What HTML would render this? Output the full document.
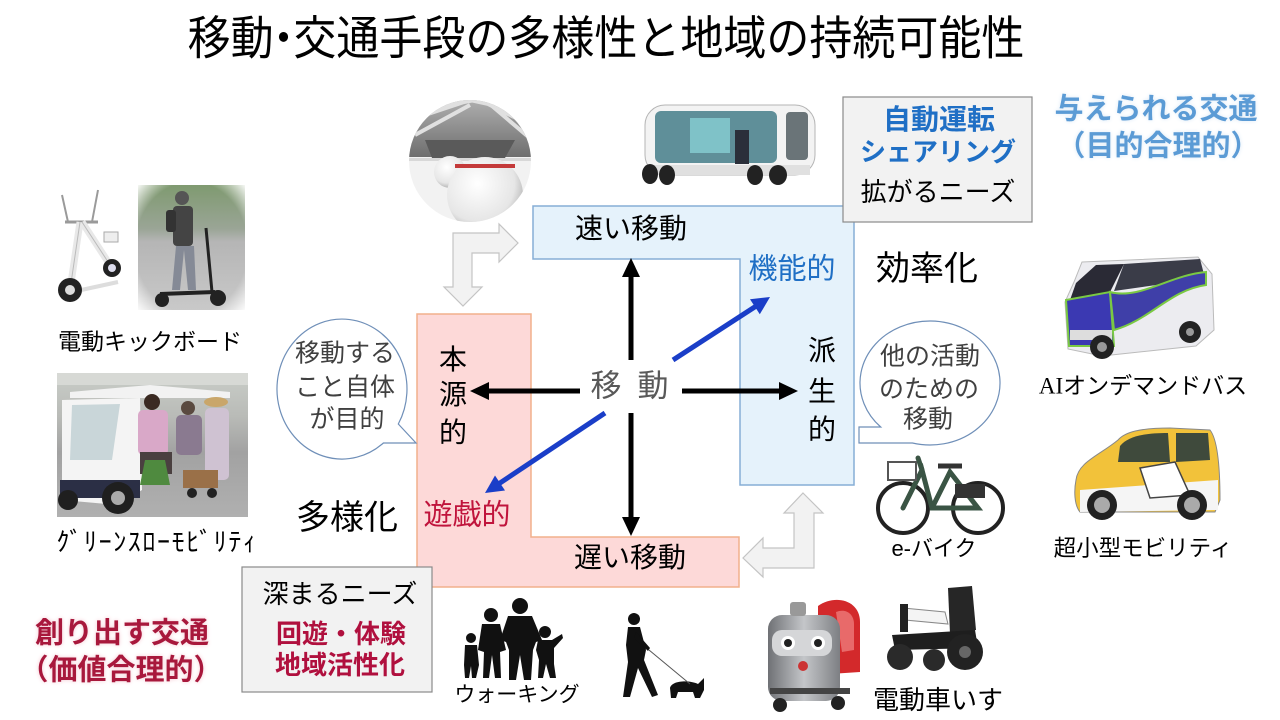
<!DOCTYPE html>
<html><head><meta charset="utf-8">
<style>
html,body{margin:0;padding:0;}
body{width:1280px;height:720px;position:relative;overflow:hidden;background:#fff;font-family:"Liberation Sans","Noto Sans CJK JP",sans-serif;}
svg{position:absolute;left:0;top:0;}
.t{position:absolute;white-space:nowrap;line-height:1;transform:translate(-50%,-50%);color:#000;}
.b{font-weight:bold;}
.blue{color:#1f6fc5;}
.red{color:#b0103e;}
</style></head><body>
<svg width="1280" height="720" viewBox="0 0 1280 720">
<defs>
  <clipPath id="pod"><circle cx="470" cy="161" r="61"/></clipPath>
  <linearGradient id="podtop" x1="0" y1="0" x2="0" y2="1">
    <stop offset="0" stop-color="#b4b4b4"/><stop offset="1" stop-color="#6e6e6e"/>
  </linearGradient>
  <radialGradient id="sph" cx="0.4" cy="0.35" r="0.7">
    <stop offset="0" stop-color="#ffffff"/><stop offset="0.7" stop-color="#e6e6e6"/><stop offset="1" stop-color="#a8a8a8"/>
  </radialGradient>
  <linearGradient id="road" x1="0" y1="0" x2="0" y2="1">
    <stop offset="0" stop-color="#7f9a70"/><stop offset="0.35" stop-color="#9aa596"/><stop offset="0.45" stop-color="#b5b5b5"/><stop offset="1" stop-color="#c9c9c9"/>
  </linearGradient>
  <linearGradient id="cartbg" x1="0" y1="0" x2="0" y2="1">
    <stop offset="0" stop-color="#c9cdc8"/><stop offset="0.3" stop-color="#b9bbb7"/><stop offset="0.55" stop-color="#a2a2a2"/><stop offset="1" stop-color="#b0b0b0"/>
  </linearGradient>
  <linearGradient id="robo" x1="0" y1="0" x2="1" y2="0">
    <stop offset="0" stop-color="#6f7175"/><stop offset="0.5" stop-color="#c4c6c9"/><stop offset="1" stop-color="#7d7f83"/>
  </linearGradient>
  <radialGradient id="vign" cx="0.5" cy="0.5" r="0.7">
    <stop offset="0.75" stop-color="#fff" stop-opacity="0"/><stop offset="1" stop-color="#fff" stop-opacity="0.9"/>
  </radialGradient>
</defs>

<!-- Pod circle image -->
<g clip-path="url(#pod)">
  <rect x="405" y="95" width="130" height="135" fill="#f2f2f2"/>
  <rect x="405" y="95" width="130" height="62" fill="url(#podtop)"/>
  <path d="M410 120 L470 100 M415 135 L470 105 M420 110 L475 100 M480 100 L530 125 M485 100 L532 140 M470 100 L525 112" stroke="#e0e0e0" stroke-width="4"/>
  <path d="M425 140 L515 140 L505 158 L432 158Z" fill="#5a5a5a"/>
  <rect x="405" y="158" width="130" height="3" fill="#d8d8d8"/>
  <circle cx="450" cy="172" r="16" fill="url(#sph)"/>
  <circle cx="485" cy="195" r="38" fill="url(#sph)"/>
  <rect x="455" y="164" width="60" height="4" fill="#c43a3a"/>
</g>

<!-- e-Palette -->
<g>
  <rect x="645" y="105" width="170" height="70" rx="20" fill="#f3f3f3" stroke="#b5b5b5"/>
  <rect x="655" y="111" width="122" height="52" rx="6" fill="#5f8f99"/>
  <rect x="690" y="118" width="40" height="35" fill="#7fc2c8"/>
  <rect x="735" y="130" width="14" height="34" fill="#2b2f3a"/>
  <rect x="786" y="112" width="22" height="48" rx="4" fill="#6a7478"/>
  <rect x="650" y="165" width="160" height="10" fill="#e0e0e0"/>
  <ellipse cx="650" cy="174" rx="8" ry="10" fill="#222"/>
  <ellipse cx="667" cy="175" rx="8" ry="10" fill="#222"/>
  <ellipse cx="755" cy="175" rx="8" ry="10" fill="#222"/>
  <ellipse cx="778" cy="175" rx="9" ry="10" fill="#222"/>
</g>

<!-- White folding scooter -->
<g fill="none" stroke="#9a9a9a" stroke-width="3">
  <path d="M65 222 L98 222"/>
  <path d="M62 195 L68 222 M98 190 L92 222" stroke-width="2"/>
  <path d="M80 222 L70 290 M82 222 L112 268" stroke="#e8e8e8" stroke-width="7"/>
  <path d="M80 222 L70 290 M82 222 L112 268" stroke="#bbb" stroke-width="1"/>
  <path d="M72 292 L118 282" stroke="#ddd" stroke-width="4"/>
  <rect x="104" y="232" width="14" height="10" fill="#eee" stroke="#aaa" stroke-width="1"/>
</g>
<circle cx="70" cy="290" r="12" fill="#222"/><circle cx="70" cy="290" r="5" fill="#ddd"/>
<circle cx="112" cy="268" r="9" fill="#222"/><circle cx="112" cy="268" r="4" fill="#dde"/>

<!-- Scooter photo -->
<rect x="138" y="185" width="107" height="125" fill="url(#road)"/>
<rect x="138" y="185" width="107" height="125" fill="url(#vign)"/>
<circle cx="182" cy="198" r="7" fill="#555"/>
<rect x="173" y="206" width="20" height="40" rx="4" fill="#444"/>
<rect x="166" y="210" width="10" height="22" rx="3" fill="#333"/>
<path d="M176 246 L172 290 L180 290 L184 250 L188 290 L196 290 L194 246Z" fill="#858a96"/>
<path d="M160 294 L215 292" stroke="#222" stroke-width="4"/>
<path d="M212 292 L206 228" stroke="#222" stroke-width="3"/>
<circle cx="162" cy="300" r="7" fill="#222"/><circle cx="218" cy="298" r="8" fill="#222"/>

<!-- Golf cart photo -->
<rect x="57" y="373" width="191" height="144" fill="url(#cartbg)"/>
<rect x="57" y="373" width="191" height="12" fill="#d7d9d5"/>
<path d="M70 392 L150 385 L230 392 L230 398 L70 398Z" fill="#f2f2f2"/>
<path d="M62 400 L140 398 L142 490 L118 505 L62 500Z" fill="#f4f4f4"/>
<path d="M72 405 L120 404 L112 460 L70 460Z" fill="#c9d6d9"/>
<rect x="60" y="480" width="80" height="18" fill="#2b2f45"/>
<circle cx="118" cy="498" r="16" fill="#1f1f1f"/><circle cx="118" cy="498" r="7" fill="#aaa"/>
<circle cx="68" cy="500" r="10" fill="#1f1f1f"/>
<rect x="138" y="410" width="30" height="45" rx="5" fill="#d9a8c8"/>
<circle cx="152" cy="402" r="8" fill="#3a2a22"/>
<rect x="140" y="452" width="32" height="22" fill="#4a4040"/>
<rect x="176" y="415" width="26" height="40" rx="5" fill="#8a7a90"/>
<circle cx="188" cy="408" r="7" fill="#5a4a40"/>
<rect x="205" y="408" width="24" height="72" rx="5" fill="#cfc2d2"/>
<ellipse cx="216" cy="402" rx="12" ry="5" fill="#c9a66a"/>
<rect x="183" y="470" width="35" height="18" fill="#9a7048"/>
<path d="M145 460 L165 460 L170 485 L140 485Z" fill="#4f8a3f"/>
<circle cx="192" cy="493" r="5" fill="#222"/><circle cx="212" cy="493" r="5" fill="#222"/>

<!-- AI bus -->
<path d="M1082 262 L1198 257 L1212 274 L1214 330 L1196 346 L1102 356 L1068 349 L1065 302 L1074 282Z" fill="#ececf0" stroke="#bbb"/>
<path d="M1076 283 L1096 265 L1124 264 L1110 292 L1070 300Z" fill="#2a2a35"/>
<path d="M1124 264 L1200 259 L1205 278 L1114 291Z" fill="#3a3c48"/>
<path d="M1066 300 L1110 292 L1114 346 L1069 346Z" fill="#3b39b2" stroke="#7ac943" stroke-width="2"/>
<path d="M1110 292 C1140 300 1170 275 1206 272 L1206 285 C1170 290 1150 320 1114 330Z" fill="#3f3fa8" stroke="#7ac943" stroke-width="2"/>
<rect x="1070" y="330" width="42" height="10" fill="#ddd"/>
<circle cx="1102" cy="347" r="12" fill="#222"/><circle cx="1102" cy="347" r="5" fill="#999"/>
<circle cx="1190" cy="332" r="11" fill="#222"/><circle cx="1190" cy="332" r="4" fill="#999"/>

<!-- e-bike -->
<g fill="none" stroke="#222" stroke-width="4">
  <circle cx="903" cy="508" r="25"/>
  <circle cx="978" cy="508" r="25"/>
</g>
<g fill="none" stroke="#3a5444" stroke-width="5" stroke-linecap="round">
  <path d="M903 508 L922 470 L932 508 L978 508 L950 472 L932 508"/>
  <path d="M922 470 L918 458"/>
</g>
<rect x="888" y="462" width="28" height="18" fill="none" stroke="#555" stroke-width="2"/>
<path d="M938 466 L962 466" stroke="#333" stroke-width="5"/>
<rect x="955" y="484" width="30" height="14" fill="#333"/>

<!-- Small car -->
<path d="M1076 480 C1078 462 1100 455 1118 440 C1125 432 1140 428 1170 428 L1210 430 C1218 440 1220 470 1220 500 L1215 512 L1080 512 C1074 505 1074 490 1076 480Z" fill="#f2c23a" stroke="#888"/>
<path d="M1080 490 L1218 480 L1218 510 L1080 512Z" fill="#f5f5f5"/>
<path d="M1120 446 C1128 436 1145 433 1168 433 L1170 462 L1118 462Z" fill="#3f4a3c"/>
<path d="M1176 433 L1208 433 L1210 460 L1176 462Z" fill="#3f4a3c"/>
<path d="M1140 468 L1175 462 L1190 495 L1150 498Z" fill="#ffffff" stroke="#444" stroke-width="1.5"/>
<circle cx="1102" cy="505" r="15" fill="#222"/><circle cx="1102" cy="505" r="8" fill="#aaa"/>
<circle cx="1192" cy="505" r="15" fill="#222"/><circle cx="1192" cy="505" r="8" fill="#aaa"/>

<!-- Family silhouettes -->
<g fill="#111">
  <circle cx="471" cy="638" r="5"/>
  <path d="M465 645 L477 645 L479 665 L476 678 L472 678 L471 666 L469 678 L465 678 L464 665Z"/>
  <circle cx="491" cy="615" r="7"/>
  <path d="M482 624 L500 624 L506 650 L500 652 L501 678 L495 678 L492 655 L489 678 L483 678 L484 652 L478 650Z"/>
  <circle cx="520" cy="606" r="8"/>
  <path d="M508 616 L532 616 L542 640 L536 642 L533 650 L531 680 L524 680 L520 655 L516 680 L509 680 L509 650 L506 642 L500 640Z"/>
  <circle cx="545" cy="632" r="6"/>
  <path d="M538 640 L552 640 L562 634 L563 638 L554 648 L554 664 L556 678 L550 678 L546 664 L543 678 L538 678 L539 660 L536 650Z"/>
</g>

<!-- Woman with dog -->
<g fill="#111">
  <circle cx="634" cy="619" r="6"/>
  <path d="M628 627 L640 627 L646 650 L644 660 L658 695 L652 697 L638 668 L630 697 L623 697 L628 662 L626 645Z"/>
  <path d="M636 632 L650 648 L648 651 L634 638Z"/>
  <path d="M670 688 C672 680 690 680 698 684 L704 678 L704 690 L700 698 L695 698 L693 692 L678 692 L676 698 L671 698Z"/>
</g>
<path d="M649 650 L690 684" stroke="#555" stroke-width="1"/>

<!-- Robot -->
<path d="M818 606 C835 594 860 600 860 622 L860 672 L830 674 L818 640Z" fill="#d3292b"/>
<path d="M836 612 C846 608 854 614 854 624 L854 650 L842 652Z" fill="#e86a6a"/>
<rect x="768" y="615" width="72" height="86" rx="14" fill="url(#robo)"/>
<rect x="790" y="602" width="16" height="14" rx="3" fill="#999"/>
<rect x="772" y="630" width="60" height="26" rx="10" fill="#d5d6d8"/>
<circle cx="788" cy="643" r="7" fill="#fff"/><circle cx="788" cy="643" r="4" fill="#222"/>
<circle cx="818" cy="643" r="7" fill="#fff"/><circle cx="818" cy="643" r="4" fill="#222"/>
<circle cx="803" cy="666" r="5" fill="#c33"/>
<rect x="770" y="688" width="80" height="6" fill="#444"/>
<circle cx="780" cy="705" r="7" fill="#222"/><circle cx="838" cy="703" r="7" fill="#222"/>

<!-- Wheelchair -->
<path d="M948 588 L972 586 L976 630 L950 634Z" fill="#262626"/>
<path d="M903 608 L945 612 L948 624 L905 620Z" fill="#f4f4f4" stroke="#888"/>
<rect x="900" y="604" width="8" height="28" fill="#222"/>
<path d="M892 635 L975 630 L978 648 L895 650Z" fill="#1e1e1e"/>
<circle cx="900" cy="657" r="13" fill="#2a2a2a"/>
<circle cx="934" cy="660" r="11" fill="#2a2a2a"/>
<circle cx="965" cy="652" r="18" fill="#222"/><circle cx="965" cy="652" r="6" fill="#666"/>

<!-- Pink L -->
<path d="M417 314 L531 314 L531 537 L739 537 L739 587 L417 587Z" fill="#fdd9d8" stroke="#f2b08c" stroke-width="1.5"/>
<!-- Blue L -->
<path d="M533 206 L854 206 L854 485 L740 485 L740 259 L533 259Z" fill="#e5f2fb" stroke="#86aed6" stroke-width="1.5"/>

<!-- Gray boxes -->
<rect x="843" y="97" width="189" height="125" fill="#f2f2f2" stroke="#8a8a8a" stroke-width="1.2"/>
<rect x="242" y="567" width="190" height="125" fill="#f2f2f2" stroke="#8a8a8a" stroke-width="1.2"/>

<!-- Gray bent arrows -->
<path d="M453 233 L499 233 L499 224 L518 243 L499 262 L499 253 L472 253 L472 287 L482 287 L463 306 L444 287 L453 287Z" fill="#f2f2f2" stroke="#c4c4c4" stroke-width="1.2"/>
<path d="M803 493 L823 513 L814 513 L814 568 L763 568 L763 577 L743 558 L763 538 L763 548 L794 548 L794 513 L784 513Z" fill="#f2f2f2" stroke="#c4c4c4" stroke-width="1.2"/>

<!-- Speech bubbles -->
<path d="M398.3 424 L416 443 L383.4 443 A65 70 0 1 1 398.3 424Z" fill="#fff" stroke="#6f8fb8" stroke-width="1.2"/>
<path d="M880.7 427 L859 427 L859 443 L912.4 443 A70 62 0 1 0 880.7 427Z" fill="#fff" stroke="#6f8fb8" stroke-width="1.2"/>

<!-- Black arrows -->
<g stroke="#000" stroke-width="5">
  <line x1="631" y1="360" x2="631" y2="272"/>
  <line x1="631" y1="413" x2="631" y2="522"/>
  <line x1="580" y1="391" x2="484" y2="391"/>
  <line x1="682" y1="391" x2="784" y2="391"/>
</g>
<g fill="#000">
  <path d="M631 258 L622 277 L640 277Z"/>
  <path d="M631 536 L622 517 L640 517Z"/>
  <path d="M470 391 L489 382 L489 400Z"/>
  <path d="M798 391 L779 382 L779 400Z"/>
</g>
<!-- Blue diagonal arrows -->
<g stroke="#1a3ec8" stroke-width="5">
  <line x1="673" y1="360" x2="757" y2="305.5"/>
  <line x1="605" y1="413" x2="498" y2="484.3"/>
</g>
<g fill="#1a3ec8">
  <path d="M770 297 L759.8 314.3 L750 299.3Z"/>
  <path d="M485 493 L505 490.5 L495 475.5Z"/>
</g>
</svg>

<!-- Title -->
<div class="t" style="left:606px;top:40px;font-size:43px;transform:translate(-50%,-50%) scale(1,1.08);">移動<span style="margin:0 -0.27em;">・</span>交通手段の多様性と地域の持続可能性</div>

<!-- Central diagram -->
<div class="t" style="left:631px;top:229px;font-size:28px;">速い移動</div>
<div class="t" style="left:630px;top:558px;font-size:28px;">遅い移動</div>
<div class="t blue" style="left:792px;top:270px;font-size:29px;">機能的</div>
<div class="t" style="left:467px;top:516px;font-size:29px;color:#c0143c;">遊戯的</div>
<div class="t" style="left:453px;top:360px;font-size:28px;">本</div>
<div class="t" style="left:453px;top:395px;font-size:28px;">源</div>
<div class="t" style="left:453px;top:433px;font-size:28px;">的</div>
<div class="t" style="left:822px;top:351px;font-size:28px;">派</div>
<div class="t" style="left:822px;top:392px;font-size:28px;">生</div>
<div class="t" style="left:822px;top:430px;font-size:28px;">的</div>
<div class="t" style="left:606px;top:386px;font-size:31px;color:#595959;">移</div>
<div class="t" style="left:653px;top:386px;font-size:31px;color:#595959;">動</div>

<!-- Bubbles -->
<div class="t" style="left:345px;top:354px;font-size:25px;color:#404040;">移動する</div>
<div class="t" style="left:345px;top:388px;font-size:25px;color:#404040;">こと自体</div>
<div class="t" style="left:347px;top:420px;font-size:25px;color:#404040;">が目的</div>
<div class="t" style="left:930px;top:357px;font-size:25px;color:#404040;">他の活動</div>
<div class="t" style="left:929px;top:390px;font-size:25px;color:#404040;">のための</div>
<div class="t" style="left:928px;top:420px;font-size:25px;color:#404040;">移動</div>

<div class="t" style="left:927px;top:269px;font-size:34px;">効率化</div>
<div class="t" style="left:347px;top:518px;font-size:34px;">多様化</div>

<!-- Top right box -->
<div class="t b blue" style="left:939px;top:120px;font-size:28px;">自動運転</div>
<div class="t b blue" style="left:938px;top:152px;font-size:26px;">シェアリング</div>
<div class="t" style="left:938px;top:192px;font-size:26px;">拡がるニーズ</div>
<div class="t b" style="left:1156px;top:110px;font-size:29px;color:#5b9bd5;text-shadow:0 0 4px #dbe9f6;">与えられる交通</div>
<div class="t b" style="left:1158px;top:147px;font-size:29px;color:#5b9bd5;text-shadow:0 0 4px #dbe9f6;">（目的合理的）</div>

<!-- Bottom left -->
<div class="t b" style="left:122px;top:634px;font-size:29px;color:#a8183c;text-shadow:0 0 4px #f5c8d2;">創り出す交通</div>
<div class="t b" style="left:121px;top:671px;font-size:29px;color:#a8183c;text-shadow:0 0 4px #f5c8d2;">（価値合理的）</div>
<div class="t" style="left:340px;top:594px;font-size:26px;">深まるニーズ</div>
<div class="t b red" style="left:341px;top:634px;font-size:26px;">回遊・体験</div>
<div class="t b red" style="left:340px;top:665px;font-size:26px;">地域活性化</div>

<!-- Labels -->
<div class="t" style="left:150px;top:342px;font-size:23px;">電動キックボード</div>
<div class="t" style="left:157px;top:542px;font-size:26px;letter-spacing:1.6px;">ｸﾞﾘｰﾝｽﾛｰﾓﾋﾞﾘﾃｨ</div>
<div class="t" style="left:1143px;top:386px;font-size:23px;"><span style="font-family:'Liberation Serif',serif;">AI</span>オンデマンドバス</div>
<div class="t" style="left:934px;top:549px;font-size:22px;">e-バイク</div>
<div class="t" style="left:1143px;top:549px;font-size:22.5px;">超小型モビリティ</div>
<div class="t" style="left:517px;top:695px;font-size:21px;">ウォーキング</div>
<div class="t" style="left:938px;top:700px;font-size:26px;">電動車いす</div>
</body></html>
